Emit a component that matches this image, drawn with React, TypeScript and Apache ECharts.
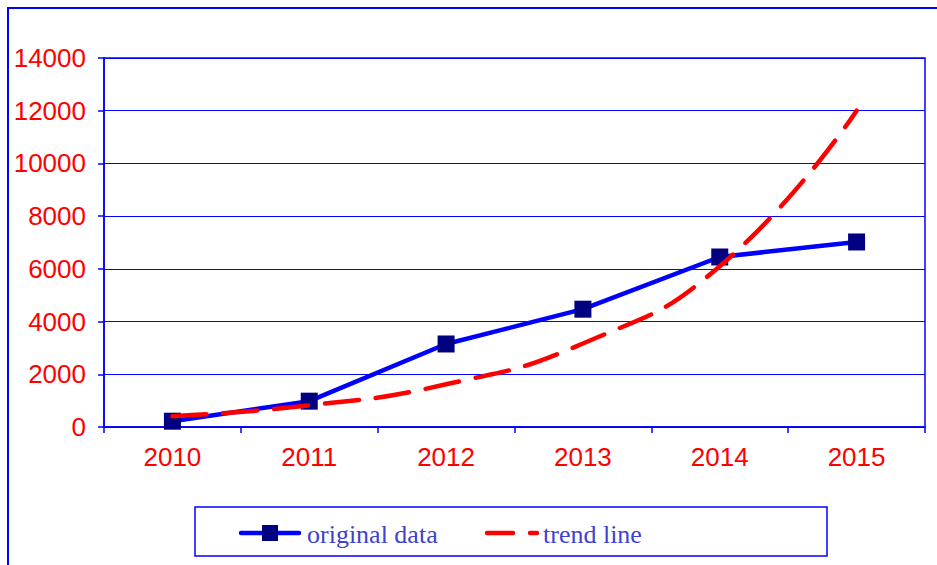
import React, { useEffect, useRef } from "react";
import * as echarts from "echarts";

const years = ["2010", "2011", "2012", "2013", "2014", "2015"];
const originalData = [220, 980, 3150, 4470, 6450, 7020];
const trendData = [410, 820, 1620, 3170, 6100, 12000];
const yTicks = { min: 0, max: 14000, interval: 2000 };
const legendNames = ["original data", "trend line"];

export default function App() {
  const ref = useRef<HTMLDivElement>(null);
  useEffect(() => {
    const chart = echarts.init(ref.current!, undefined, { renderer: "svg" });
    const blue = "#0000ff";
    const legendText = {
      fontFamily: "Liberation Serif",
      fontSize: 26,
      fill: "#3f3fd0",
      textVerticalAlign: "middle",
      verticalAlign: "middle",
    };
    chart.setOption({
      animation: false,
      backgroundColor: "#ffffff",
      grid: {
        left: 104,
        top: 58,
        right: 12,
        bottom: 138,
        show: true,
        borderColor: blue,
        borderWidth: 1.5,
      },
      graphic: [
        {
          type: "rect",
          shape: { x: 8, y: 8, width: 960, height: 600 },
          style: { fill: "none", stroke: blue, lineWidth: 2 },
          silent: true,
        },
        {
          type: "rect",
          shape: { x: 195, y: 507, width: 632, height: 49 },
          style: { fill: "none", stroke: blue, lineWidth: 1.5 },
          silent: true,
        },
        {
          type: "line",
          shape: { x1: 241, y1: 533, x2: 299, y2: 533 },
          style: { stroke: blue, lineWidth: 4.5, lineCap: "round" },
          silent: true,
        },
        {
          type: "rect",
          shape: { x: 262, y: 525, width: 16, height: 16 },
          style: { fill: "#000080" },
          silent: true,
        },
        {
          type: "text",
          x: 307,
          y: 534,
          style: { ...legendText, text: legendNames[0] },
          silent: true,
        },
        {
          type: "line",
          shape: { x1: 487, y1: 533, x2: 513, y2: 533 },
          style: { stroke: "#ff0000", lineWidth: 4.5, lineCap: "round" },
          silent: true,
        },
        {
          type: "line",
          shape: { x1: 530, y1: 533, x2: 537, y2: 533 },
          style: { stroke: "#ff0000", lineWidth: 4.5, lineCap: "round" },
          silent: true,
        },
        {
          type: "text",
          x: 543,
          y: 534,
          style: { ...legendText, text: legendNames[1] },
          silent: true,
        },
      ],
      xAxis: {
        type: "category",
        data: years,
        boundaryGap: true,
        axisLine: { lineStyle: { color: blue, width: 1.5 } },
        axisTick: { show: true, length: 6, lineStyle: { color: blue, width: 1.5 } },
        axisLabel: {
          color: "#ff0000",
          fontFamily: "Liberation Sans",
          fontSize: 26,
          margin: 17,
        },
      },
      yAxis: {
        type: "value",
        min: yTicks.min,
        max: yTicks.max,
        interval: yTicks.interval,
        axisLine: { show: true, lineStyle: { color: blue, width: 1.5 } },
        axisTick: { show: true, length: 6, lineStyle: { color: blue, width: 1.5 } },
        splitLine: { show: true, lineStyle: { color: blue, width: 1 } },
        axisLabel: {
          color: "#ff0000",
          fontFamily: "Liberation Sans",
          fontSize: 26,
          margin: 18,
          formatter: (v: number) => String(v),
        },
      },
      series: [
        {
          name: legendNames[0],
          type: "line",
          data: originalData,
          symbol: "rect",
          symbolSize: 17,
          itemStyle: { color: "#000080" },
          lineStyle: { color: blue, width: 4.5 },
          z: 3,
        },
        {
          name: legendNames[1],
          type: "line",
          data: trendData,
          smooth: true,
          symbol: "none",
          itemStyle: { color: "#ff0000" },
          lineStyle: { color: "#ff0000", width: 4.5, type: [34, 17], cap: "round" },
          z: 4,
        },
      ],
    });
    return () => chart.dispose();
  }, []);
  return (
    <div
      ref={ref}
      style={{ position: "fixed", left: 0, top: 0, width: 937, height: 565 }}
    />
  );
}
